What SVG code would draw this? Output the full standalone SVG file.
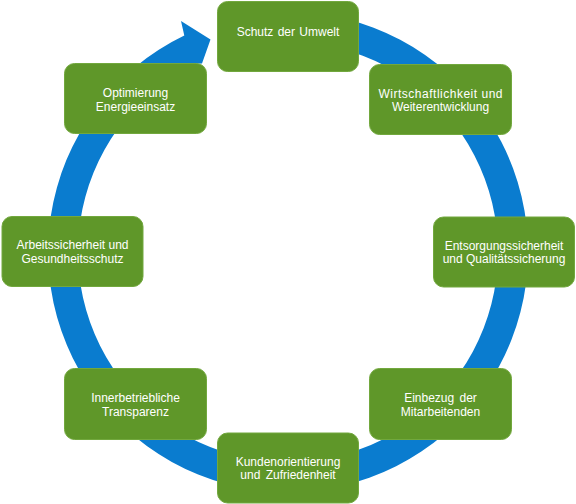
<svg xmlns="http://www.w3.org/2000/svg" width="576" height="504" viewBox="0 0 576 504">
<style>
.box{fill:#5f9729;stroke:#72a83e;stroke-width:1}
.t{font-family:"Liberation Sans",Arial,sans-serif;font-size:12px;fill:#ffffff;text-anchor:middle}
.ring{fill:#0a7ccf}
</style>
<rect width="576" height="504" fill="#ffffff"/>
<g id="connectors">
<path class="ring" d="M 288 12 A 240 240 0 1 1 184.3 35.6 L 181 21 L 210.5 39.5 L 202 63.5 L 195.6 63.4 A 210 210 0 1 0 288 42 Z"/>
</g>
<g id="n1"><rect class="box" x="217.5" y="1.5" width="141" height="70" rx="10"/><text class="t" x="288" y="36" word-spacing="1">Schutz der Umwelt</text></g>
<g id="n2"><rect class="box" x="369.5" y="64.5" width="142" height="70" rx="10"/><text class="t" x="440.5" y="97.5" textLength="124" lengthAdjust="spacing">Wirtschaftlichkeit und</text><text class="t" x="440.5" y="111">Weiterentwicklung</text></g>
<g id="n3"><rect class="box" x="433.5" y="217" width="141" height="70" rx="10"/><text class="t" x="504" y="249.5">Entsorgungssicherheit</text><text class="t" x="504" y="263">und Qualitätssicherung</text></g>
<g id="n4"><rect class="box" x="369.5" y="368.5" width="142" height="71" rx="10"/><text class="t" x="440.5" y="402" word-spacing="2">Einbezug der</text><text class="t" x="440.5" y="415.5">Mitarbeitenden</text></g>
<g id="n5"><rect class="box" x="217.5" y="433" width="141" height="70" rx="10"/><text class="t" x="288" y="466">Kundenorientierung</text><text class="t" x="288" y="478.5" word-spacing="2">und Zufriedenheit</text></g>
<g id="n6"><rect class="box" x="64.5" y="368.5" width="142" height="71" rx="10"/><text class="t" x="135.5" y="402">Innerbetriebliche</text><text class="t" x="135.5" y="415.5">Transparenz</text></g>
<g id="n7"><rect class="box" x="2" y="216.5" width="141" height="70" rx="10"/><text class="t" x="72.5" y="249">Arbeitssicherheit und</text><text class="t" x="72.5" y="262.5">Gesundheitsschutz</text></g>
<g id="n8"><rect class="box" x="64.5" y="63.5" width="142" height="70" rx="10"/><text class="t" x="135.5" y="97">Optimierung</text><text class="t" x="135.5" y="110.5">Energieeinsatz</text></g>
</svg>
